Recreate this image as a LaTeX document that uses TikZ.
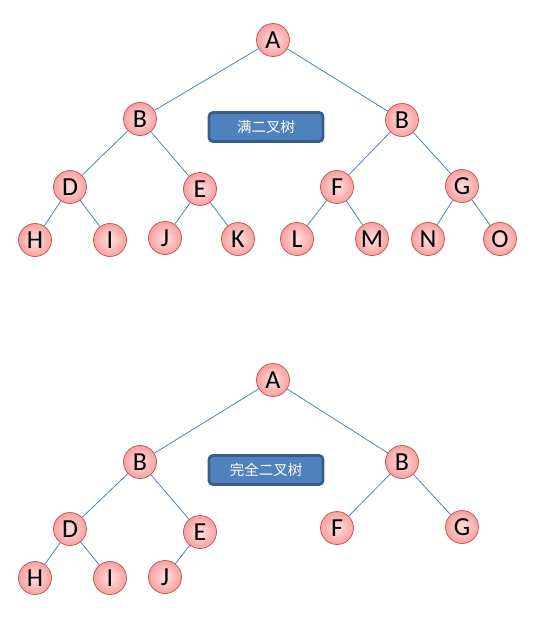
\documentclass[tikz,border=0pt]{standalone}
\usepackage{fontspec}
\setmainfont{Carlito}
\newfontfamily\cjk{Noto Sans CJK SC}
\definecolor{edgeblue}{HTML}{4F81BD}
\definecolor{boxfill}{HTML}{4F81BD}
\definecolor{boxline}{HTML}{385D8A}
\definecolor{nodein}{HTML}{FFE0E0}
\definecolor{nodeout}{HTML}{F7A0A0}
\definecolor{nodeline}{HTML}{C0504D}
\tikzset{
  tn/.style={circle, minimum size=33pt, inner sep=0pt, draw=nodeline, line width=0.7pt,
    inner color=nodein, outer color=nodeout, font=\fontsize{26}{26}\selectfont},
  edge/.style={draw=edgeblue, line width=0.8pt},
  label box/.style={rectangle, rounded corners=4pt, fill=boxfill, draw=boxline, line width=2.8pt,
    minimum width=114pt, minimum height=29pt, text=white, font=\cjk\fontsize{14.5}{14.5}\selectfont}
}
\begin{document}
\begin{tikzpicture}[x=1pt,y=-1pt]
\useasboundingbox (0,0) rectangle (539,627);
% top tree
\node[tn] (A) at (273,40) {A};
\node[tn] (B1) at (140,119) {B};
\node[tn] (B2) at (402,120) {B};
\node[tn] (D) at (70,187) {D};
\node[tn] (E) at (200,189) {E};
\node[tn] (F) at (337,187) {F};
\node[tn] (G) at (462,186) {G};
\node[tn] (H) at (35,240) {H};
\node[tn] (I) at (110,240) {I};
\node[tn] (J) at (165,238) {J};
\node[tn] (K) at (238,239) {K};
\node[tn] (L) at (297,239) {L};
\node[tn] (M) at (372,239) {M};
\node[tn] (N) at (428,239) {N};
\node[tn] (O) at (500,239) {O};
\node[label box] (t1) at (266,127) {满二叉树};
% bottom tree
\node[tn] (a) at (273,380) {A};
\node[tn] (b1) at (140,462) {B};
\node[tn] (b2) at (402,462) {B};
\node[tn] (d) at (70,529) {D};
\node[tn] (e) at (200,532) {E};
\node[tn] (f) at (337,528) {F};
\node[tn] (g) at (462,527) {G};
\node[tn] (h) at (35,578) {H};
\node[tn] (i) at (110,578) {I};
\node[tn] (j) at (165,577) {J};
\node[label box] (t2) at (266,470) {完全二叉树};
% edges
\draw[edge] (A) -- (B1); \draw[edge] (A) -- (B2);
\draw[edge] (B1) -- (D); \draw[edge] (B1) -- (E);
\draw[edge] (B2) -- (F); \draw[edge] (B2) -- (G);
\draw[edge] (D) -- (H); \draw[edge] (D) -- (I);
\draw[edge] (E) -- (J); \draw[edge] (E) -- (K);
\draw[edge] (F) -- (L); \draw[edge] (F) -- (M);
\draw[edge] (G) -- (N); \draw[edge] (G) -- (O);
\draw[edge] (a) -- (b1); \draw[edge] (a) -- (b2);
\draw[edge] (b1) -- (d); \draw[edge] (b1) -- (e);
\draw[edge] (b2) -- (f); \draw[edge] (b2) -- (g);
\draw[edge] (d) -- (h); \draw[edge] (d) -- (i);
\draw[edge] (e) -- (j);
\end{tikzpicture}
\end{document}
